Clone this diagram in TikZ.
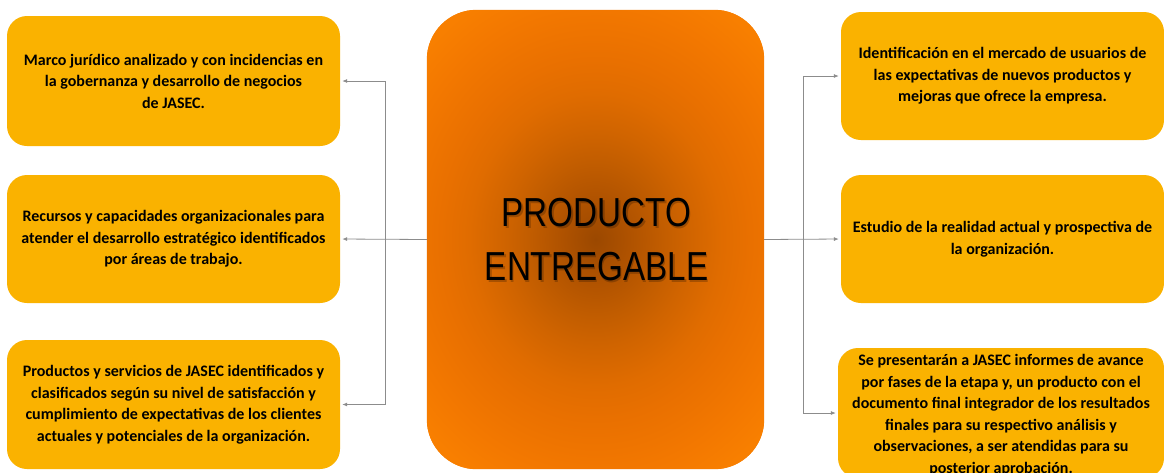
\documentclass[tikz,border=0pt]{standalone}
\usepackage{fontspec}
\setmainfont{Carlito}
\newfontfamily\narrowfont{Liberation Sans}
\usetikzlibrary{arrows.meta}
\definecolor{boxfill}{RGB}{250,178,0}
\definecolor{linegray}{RGB}{140,140,140}
\definecolor{shA}{RGB}{155,72,0}
\definecolor{shB}{RGB}{175,82,0}
\definecolor{shC}{RGB}{194,93,0}
\definecolor{shD}{RGB}{208,100,0}
\definecolor{shE}{RGB}{224,108,0}
\definecolor{shF}{RGB}{233,112,0}
\definecolor{shG}{RGB}{243,120,0}
\definecolor{shH}{RGB}{248,127,0}
\pgfdeclareradialshading{centershade}{\pgfpoint{0bp}{0bp}}{%
  color(0bp)=(shA);
  color(10bp)=(shB);
  color(20bp)=(shC);
  color(27.5bp)=(shD);
  color(37.5bp)=(shE);
  color(46bp)=(shF);
  color(60bp)=(shG);
  color(70bp)=(shH);
  color(100bp)=(shH)}
\tikzset{
  infobox/.style={draw=none, fill=boxfill, rounded corners=20pt, minimum width=333pt,
    align=center, font=\bfseries\fontsize{16}{21.5}\selectfont, inner sep=0pt},
  centerbox/.style={draw=none, minimum width=337pt, minimum height=459pt, inner sep=0pt},
  bigtext/.style={align=center, font=\narrowfont\fontsize{40.5}{54}\selectfont},
  conn/.style={draw=linegray, line width=0.8pt},
  arr/.style={conn, -{Latex[length=5pt,width=4pt]}, shorten >=2pt},
}
\begin{document}
\begin{tikzpicture}[x=1pt,y=-1pt]
\clip (0,0) rectangle (1164,472);
\fill[white] (0,0) rectangle (1164,472);
% central box
\node[centerbox] (C) at (595.5,239.5) {};
\begin{scope}
  \path[clip, rounded corners=50pt] (C.south west) rectangle (C.north east);
  \fill[shH] (C.south west) rectangle (C.north east);
  \node[inner sep=0pt] (Cshade) at (595.5,239.5) {\scalebox{3.36}[3.9]{\pgfuseshading{centershade}}};
\end{scope}
\node[bigtext, text=black, opacity=0.22] (Cs) at (598,242) {\scalebox{0.82}[1]{PRODUCTO}\\\scalebox{0.82}[1]{ENTREGABLE}};
\node[bigtext, text=black] (Ct) at (596.5,240) {\scalebox{0.82}[1]{PRODUCTO}\\\scalebox{0.82}[1]{ENTREGABLE}};
% left boxes
\node[infobox, minimum height=130pt] (L1) at (173.5,81) {Marco jurídico analizado y con incidencias en\\la gobernanza y desarrollo de negocios\\de JASEC.};
\node[infobox, minimum height=128pt] (L2) at (173.5,239) {Recursos y capacidades organizacionales para\\atender el desarrollo estratégico identificados\\por áreas de trabajo.};
\node[infobox, minimum height=129pt] (L3) at (173.5,404.5) {Productos y servicios de JASEC identificados y\\clasificados según su nivel de satisfacción y\\cumplimiento de expectativas de los clientes\\actuales y potenciales de la organización.};
% right boxes
\node[infobox, minimum width=323pt, minimum height=128pt] (R1) at (1002.5,76) {Identificación en el mercado de usuarios de\\las expectativas de nuevos productos y\\mejoras que ofrece la empresa.};
\node[infobox, minimum width=323pt, minimum height=128pt] (R2) at (1002.5,239) {Estudio de la realidad actual y prospectiva de\\la organización.};
\node[infobox, minimum width=326pt, minimum height=130pt] (R3) at (1001,413) {};
\node[align=center, font=\bfseries\fontsize{16}{21.5}\selectfont, inner sep=0pt] (R3t) at (1001,415) {Se presentarán a JASEC informes de avance\\por fases de la etapa y, un producto con el\\documento final integrador de los resultados\\finales para su respectivo análisis y\\observaciones, a ser atendidas para su\\posterior aprobación.};
% connectors
\coordinate (jl) at (385,239);
\coordinate (jr) at (803,239);
\draw[arr] (C.west) -- (L2.east);
\draw[arr] (jl) |- (L1.east);
\draw[arr] (jl) |- (L3.east);
\draw[arr] (C.east) -- (R2.west);
\draw[arr] (jr) |- (R1.west);
\draw[arr] (jr) |- (R3.west);
\end{tikzpicture}
\end{document}
